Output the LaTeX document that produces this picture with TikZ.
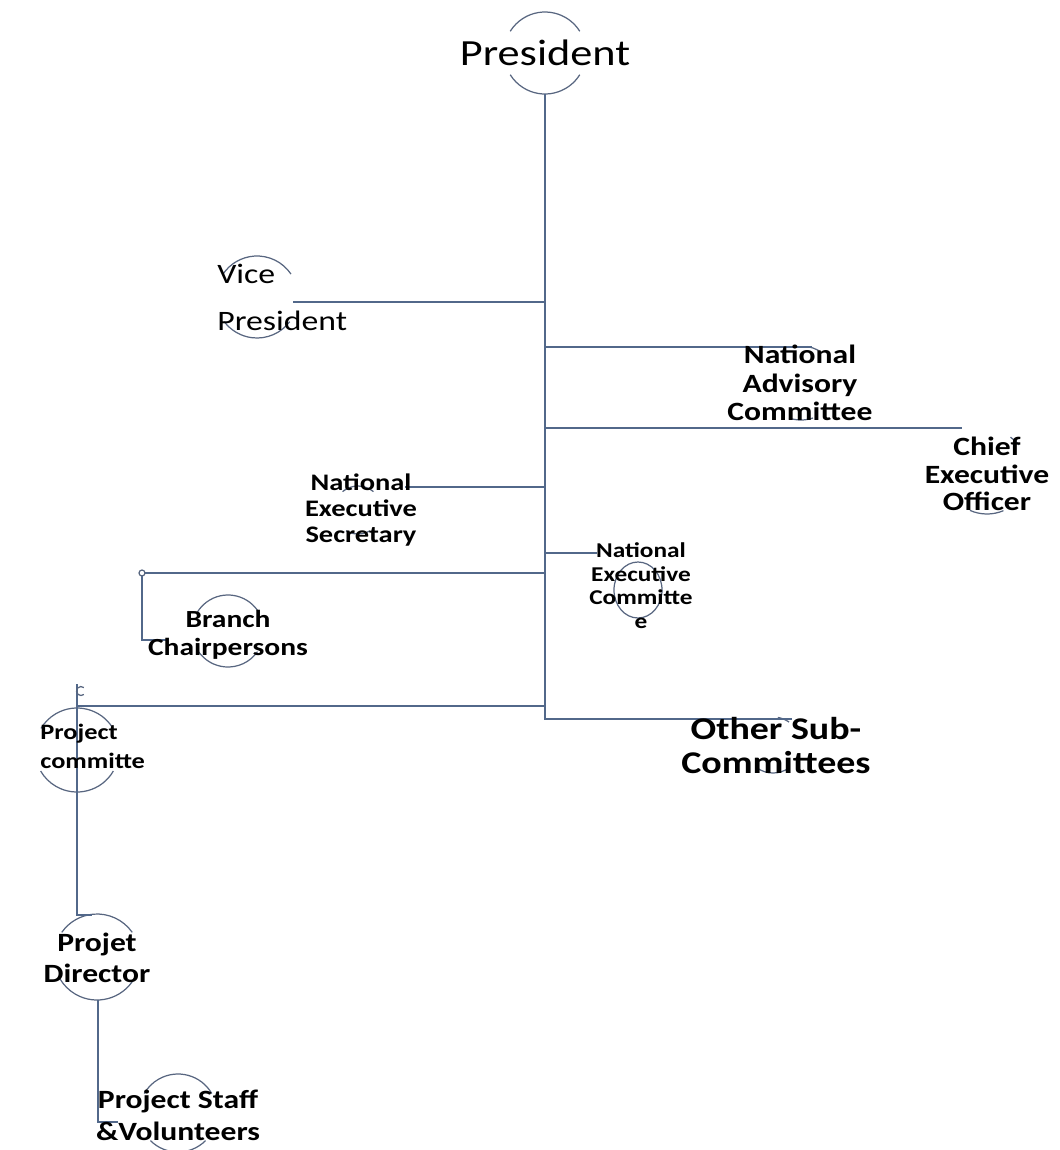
\documentclass[tikz,border=0pt]{standalone}
\usepackage{fontspec}
\setmainfont{Carlito}[FakeStretch=1.2]
\usepackage{tikz}

\definecolor{lineblue}{RGB}{82,104,138}
\definecolor{ringblue}{RGB}{88,102,128}

\tikzset{
  lbl/.style={inner sep=0pt, align=center, anchor=north, text=black},
  ring/.style={draw=ringblue, line width=0.7pt},
  link/.style={draw=lineblue, line width=1.1pt},
  trunk/.style={draw=lineblue, line width=1.5pt}
}

\begin{document}
\begin{tikzpicture}[x=0.02cm, y=-0.02cm]
\useasboundingbox (0,0) rectangle (1059,1150);

% circle fragments behind the names
\draw[ring] (545,53) ++(-32:41) arc (-32:-148:41);
\draw[ring] (545,53) ++(32:41) arc (32:148:41);
\draw[ring] (257,297) ++(-34:41) arc (-34:-146:41);
\draw[ring] (257,297) ++(37:41) arc (37:143:41);
\draw[ring] (801,383) ++(71:37) arc (71:109:37);
\draw[ring] (801,383) ++(-62:37) arc (-62:-80:37);
\draw[ring] (987,472) ++(-40:42) arc (-40:-56:42);
\draw[ring] (987,472) ++(67:42) arc (67:114:42);
\draw[ring] (358,510) ++(-50:24) arc (-50:-130:24);
\draw[ring] (358,510) ++(60:24) arc (60:120:24);
\draw[ring] (638,590) ellipse [x radius=24, y radius=28];
\draw[ring] (228,631) ++(-30:36) arc (-30:-150:36);
\draw[ring] (228,631) ++(35:36) arc (35:145:36);
\draw[ring] (77,750) ++(-31:42) arc (-31:-149:42);
\draw[ring] (77,750) ++(30:42) arc (30:150:42);
\draw[ring] (97,957) ++(-35:43) arc (-35:-145:43);
\draw[ring] (97,957) ++(30:43) arc (30:150:43);
\draw[ring] (178,1113) ++(-30:39) arc (-30:-150:39);
\draw[ring] (178,1113) ++(45:39) arc (45:135:39);
\draw[ring] (773,745) ++(55:28) arc (55:125:28);
\draw[ring] (773,745) ++(-55:28) arc (-55:-80:28);

% points on the trunk and free ends
\coordinate (presFoot) at (545,94);
\coordinate (tVice) at (545,302);   \coordinate (eVice) at (293,302);
\coordinate (tNac) at (545,347);    \coordinate (eNac) at (812,347);
\coordinate (tCeo) at (545,428);    \coordinate (eCeo) at (962,428);
\coordinate (tNes) at (545,487);    \coordinate (eNes) at (405,487);
\coordinate (tNec) at (545,553);    \coordinate (eNec) at (597,553);
\coordinate (tBranch) at (545,573); \coordinate (bCorner) at (142,573);
\coordinate (bFoot) at (142,640);   \coordinate (eBranch) at (167,640);
\coordinate (tProj) at (545,706);   \coordinate (pJoin) at (77,706);
\coordinate (pTop) at (77,684);     \coordinate (pFoot) at (77,915);
\coordinate (eProjd) at (92,915);
\coordinate (dFoot) at (98,1000);   \coordinate (dCorner) at (98,1122);
\coordinate (eStaff) at (118,1122);
\coordinate (tOther) at (545,719);  \coordinate (eOther) at (792,719);

\draw[trunk] (presFoot) -- (tOther) -- (eOther);
\draw[link] (tVice) -- (eVice);
\draw[link] (tNac) -- (eNac);
\draw[link] (tCeo) -- (eCeo);
\draw[link] (tNes) -- (eNes);
\draw[link] (tNec) -- (eNec);
\draw[link] (tBranch) -- ([xshift=0.06cm]bCorner);
\draw[ring] (bCorner) circle (3);
\draw[link] ([yshift=-0.06cm]bCorner) -- (bFoot) -- (eBranch);
\draw[link] (tProj) -- (pJoin);
\draw[link] (pTop) -- (pFoot) -- (eProjd);
\draw[ring] (81,691) ++(-50:4.5) arc (-50:-310:4.5);
\draw[link] (dFoot) -- (dCorner) -- (eStaff);

% names
\node[lbl, font=\fontsize{21}{24}\selectfont] at (545,40) (pres) {President};
\node[lbl, anchor=north west, align=left, font=\fontsize{16}{26.6}\selectfont] at (217,264) (vice) {Vice\\President};
\node[lbl, font=\bfseries\fontsize{15}{16.2}\selectfont] at (800,345) (nac) {National\\Advisory\\Committee};
\node[lbl, font=\bfseries\fontsize{15}{15.6}\selectfont] at (987,437) (ceo) {Chief\\Executive\\Officer};
\node[lbl, font=\bfseries\fontsize{13.5}{15}\selectfont] at (361,473) (nes) {National\\Executive\\Secretary};
\node[lbl, font=\bfseries\fontsize{12}{13.6}\selectfont] at (641,542) (nec) {National\\Executive\\Committe\\e};
\node[lbl, font=\bfseries\fontsize{14}{15.9}\selectfont] at (228,610) (branch) {Branch\\Chairpersons};
\node[lbl, anchor=north west, align=left, font=\bfseries\fontsize{12.5}{16.4}\selectfont] at (40,724) (projc) {Project\\committe};
\node[lbl, font=\bfseries\fontsize{15}{17.6}\selectfont] at (97,933) (projd) {Projet\\Director};
\node[lbl, font=\bfseries\fontsize{15}{18.1}\selectfont] at (178,1090) (staff) {Project Staff\\\&Volunteers};
\node[lbl, font=\bfseries\fontsize{18}{19.3}\selectfont] at (776,717) (other) {Other Sub-\\Committees};
\end{tikzpicture}
\end{document}
